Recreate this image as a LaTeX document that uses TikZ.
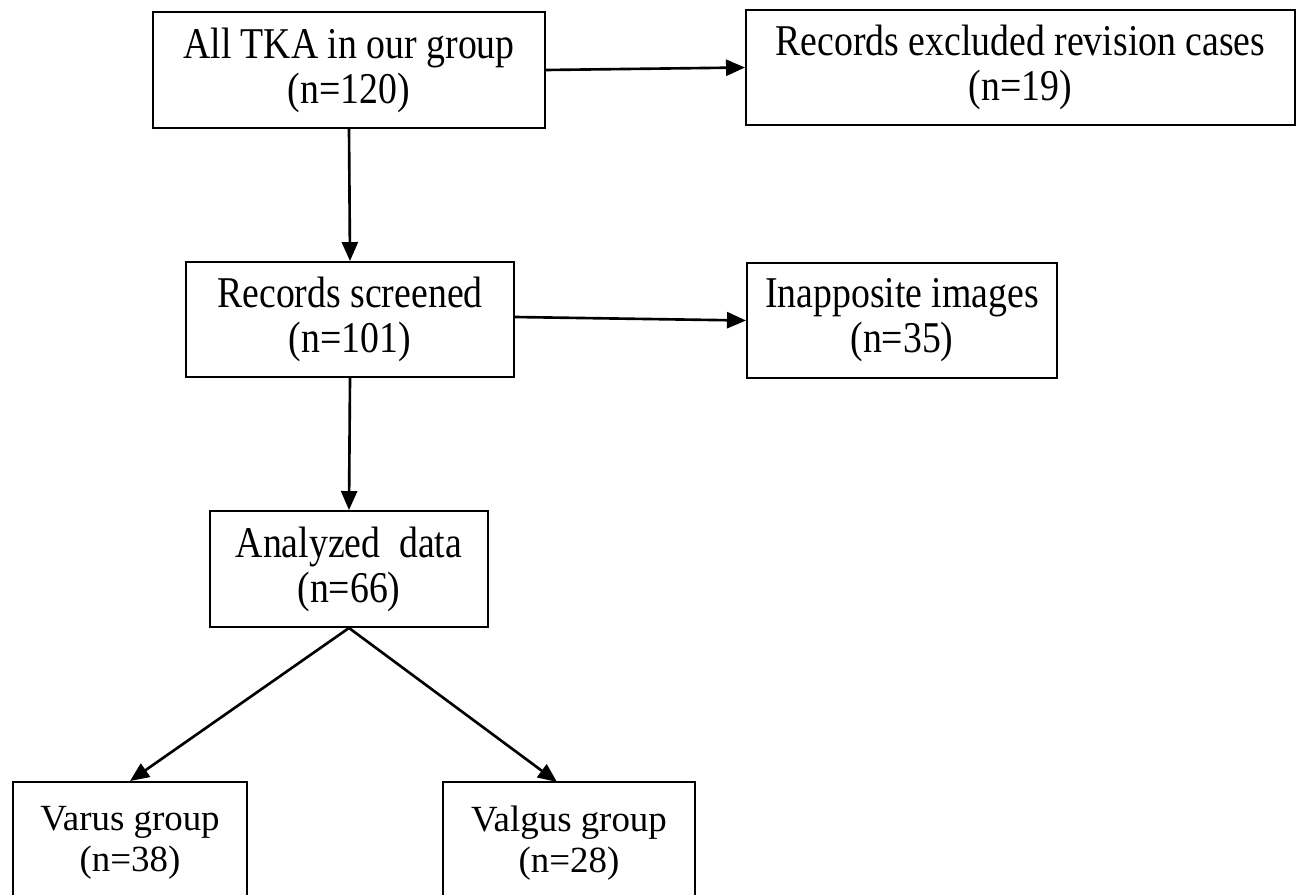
\documentclass[tikz,border=0pt]{standalone}
\usepackage{fontspec}
\setmainfont{Liberation Serif}
\newfontfamily\boxfont[FakeStretch=0.86]{Liberation Serif}
\usetikzlibrary{arrows.meta, positioning}

\begin{document}
\begin{tikzpicture}[x=0.02cm, y=-0.02cm,
		box/.style={draw, line width=1.1pt, align=center, inner sep=0pt,
			font=\boxfont\fontsize{25}{25.6}\selectfont},
		groupbox/.style={box, font=\fontsize{21}{23.2}\selectfont},
		link/.style={line width=1.5pt, -{Triangle[length=0.38cm, width=0.32cm]}}]
		\useasboundingbox (0,0) rectangle (1298,895);

		% Boxes
		\node[box, minimum width=392*0.02cm, minimum height=116*0.02cm] (all) at (349,70) {All TKA in our group\\(n=120)};
		\node[box, minimum width=549*0.02cm, minimum height=115*0.02cm] (excl) at (1020.5,67.5) {Records excluded revision cases\\(n=19)};
		\node[box, minimum width=328*0.02cm, minimum height=115*0.02cm] (screen) at (350,319.5) {Records screened\\(n=101)};
		\node[box, minimum width=310*0.02cm, minimum height=115*0.02cm] (inapp) at (902,320.5) {Inapposite images\\(n=35)};
		\node[box, minimum width=278*0.02cm, minimum height=116*0.02cm] (anal) at (349,569) {Analyzed~~data\\(n=66)};
		\node[groupbox, minimum width=234*0.02cm, minimum height=122*0.02cm] (varus) at (130,843) {Varus group\\(n=38)};
		\node[groupbox, minimum width=252*0.02cm, minimum height=122*0.02cm] (valgus) at (569,843) {Valgus group\\(n=28)};

		% Arrow end on the valgus box
		\coordinate (gtip) at (557,782);

		% Arrows
		\draw[link] (all.east) -- (excl.west);
		\draw[link] (all.south) -- (screen.north);
		\draw[link] ([yshift=0.05cm]screen.east) -- (inapp.west);
		\draw[link] (screen.south) -- (anal.north);
		\draw[link] (anal.south) -- (varus.north);
		\draw[link] (anal.south) -- (gtip);
	\end{tikzpicture}
\end{document}
